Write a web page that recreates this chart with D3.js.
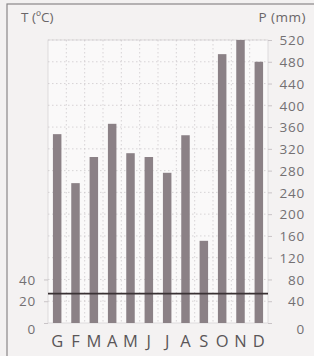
<!DOCTYPE html>
<html>
<head>
<meta charset="utf-8">
<script src="https://cdn.jsdelivr.net/npm/d3@7"></script>
<style>
  body { margin:0; background:#f3f1f1; }
  text { font-family:"Open Sans", sans-serif; fill:#6a6668; }
</style>
</head>
<body>
<svg id="chart" width="314" height="356"></svg>
<script>
let months = ['G','F','M','A','M','J','J','A','S','O','N','D'];
let precip = [347, 257, 305, 366, 312, 305, 276, 345, 151, 494, 520, 480]; // mm
let temps  = [27, 27, 27, 27, 27, 27, 27, 27, 27, 27, 27, 27];             // °C
let pTicks = [0,40,80,120,160,200,240,280,320,360,400,440,480,520];
let tTicks = [0,20,40];

let svg = d3.select("#chart")
let barColor = "#8b8186"

let pLeft = 48, pRight = 268, pTop = 40, pBottom = 323

// outer frame
svg.append("rect").attr("x",7).attr("y",4).attr("width",320).attr("height",360)
   .attr("fill","#f4f2f2").attr("stroke","#8a8688").attr("stroke-width",1.2)

svg.append("rect").attr("x",pLeft).attr("y",pTop).attr("width",pRight-pLeft).attr("height",pBottom-pTop)
   .attr("fill","#faf9f9").attr("stroke","#d8d4d6").attr("stroke-width",0.8)

let x = d3.scaleBand().domain(d3.range(12)).range([pLeft,pRight]).paddingInner(0).paddingOuter(0)
let yP = d3.scaleLinear().domain([0,520]).range([pBottom,pTop])
let yT = d3.scaleLinear().domain([0,260]).range([pBottom,pTop]) // P = 2T

// dotted grid
svg.append("g").selectAll("line").data(pTicks.filter(d => d > 0))
   .enter().append("line")
   .attr("x1",pLeft).attr("x2",pRight)
   .attr("y1",d => yP(d)).attr("y2",d => yP(d))
   .attr("stroke","#c9c4c7").attr("stroke-width",0.7).attr("stroke-dasharray","1.5,2.5")
svg.append("g").selectAll("line").data(d3.range(1,12))
   .enter().append("line")
   .attr("x1",d => x(d)).attr("x2",d => x(d))
   .attr("y1",pTop).attr("y2",pBottom)
   .attr("stroke","#c9c4c7").attr("stroke-width",0.7).attr("stroke-dasharray","1.5,2.5")

// bars
let bw = 8.5
svg.append("g").selectAll("rect").data(precip)
   .enter().append("rect")
   .attr("x",(d,i) => x(i) + x.bandwidth()/2 - bw/2)
   .attr("width",bw)
   .attr("y",d => yP(d))
   .attr("height",d => pBottom - yP(d))
   .attr("fill",barColor)

// temperature line, stretched to the plot edges
let pts = temps.map((t,i) => [x(i) + x.bandwidth()/2, yT(t)])
pts.unshift([pLeft, yT(temps[0])])
pts.push([pRight, yT(temps[11])])
svg.append("path").attr("d",d3.line()(pts))
   .attr("fill","none").attr("stroke","#3a3234").attr("stroke-width",1.8)

// right axis (P)
let axR = svg.append("g").attr("transform","translate(" + pRight + ",0)")
axR.call(d3.axisRight(yP).tickValues(pTicks).tickSize(4).tickPadding(0).tickFormat(d3.format("d")))
axR.select(".domain").remove()
axR.selectAll(".tick line").attr("stroke","#c9c4c7")
axR.selectAll(".tick text").attr("x",37).attr("text-anchor","end")
   .attr("dy",d => d == 0 ? "0.75em" : "0.35em")
   .style("font-size","13.5px").style("letter-spacing","0.8px").style("fill","#737072")

// left axis (T)
let axL = svg.append("g").attr("transform","translate(" + pLeft + ",0)")
axL.call(d3.axisLeft(yT).tickValues(tTicks).tickSize(4).tickPadding(0).tickFormat(d3.format("d")))
axL.select(".domain").remove()
axL.selectAll(".tick line").attr("stroke","#c9c4c7")
axL.selectAll(".tick text").attr("x",-12)
   .attr("dy",d => d == 0 ? "0.75em" : "0.35em")
   .style("font-size","13.5px").style("letter-spacing","0.8px").style("fill","#737072")

// month letters
svg.append("g").selectAll("text").data(months)
   .enter().append("text")
   .attr("x",(d,i) => x(i) + x.bandwidth()/2)
   .attr("y",347)
   .attr("text-anchor","middle")
   .style("font-size","16.5px")
   .style("fill","#5a5658")
   .text(d => d)

// axis titles
svg.append("text").attr("x",21).attr("y",22).style("font-size","13.5px").style("fill","#6a6668").text("T (ºC)")
svg.append("text").attr("x",306).attr("y",22).attr("text-anchor","end").style("font-size","13.5px").style("letter-spacing","0.5px").style("fill","#6a6668").text("P (mm)")
</script>
</body>
</html>
